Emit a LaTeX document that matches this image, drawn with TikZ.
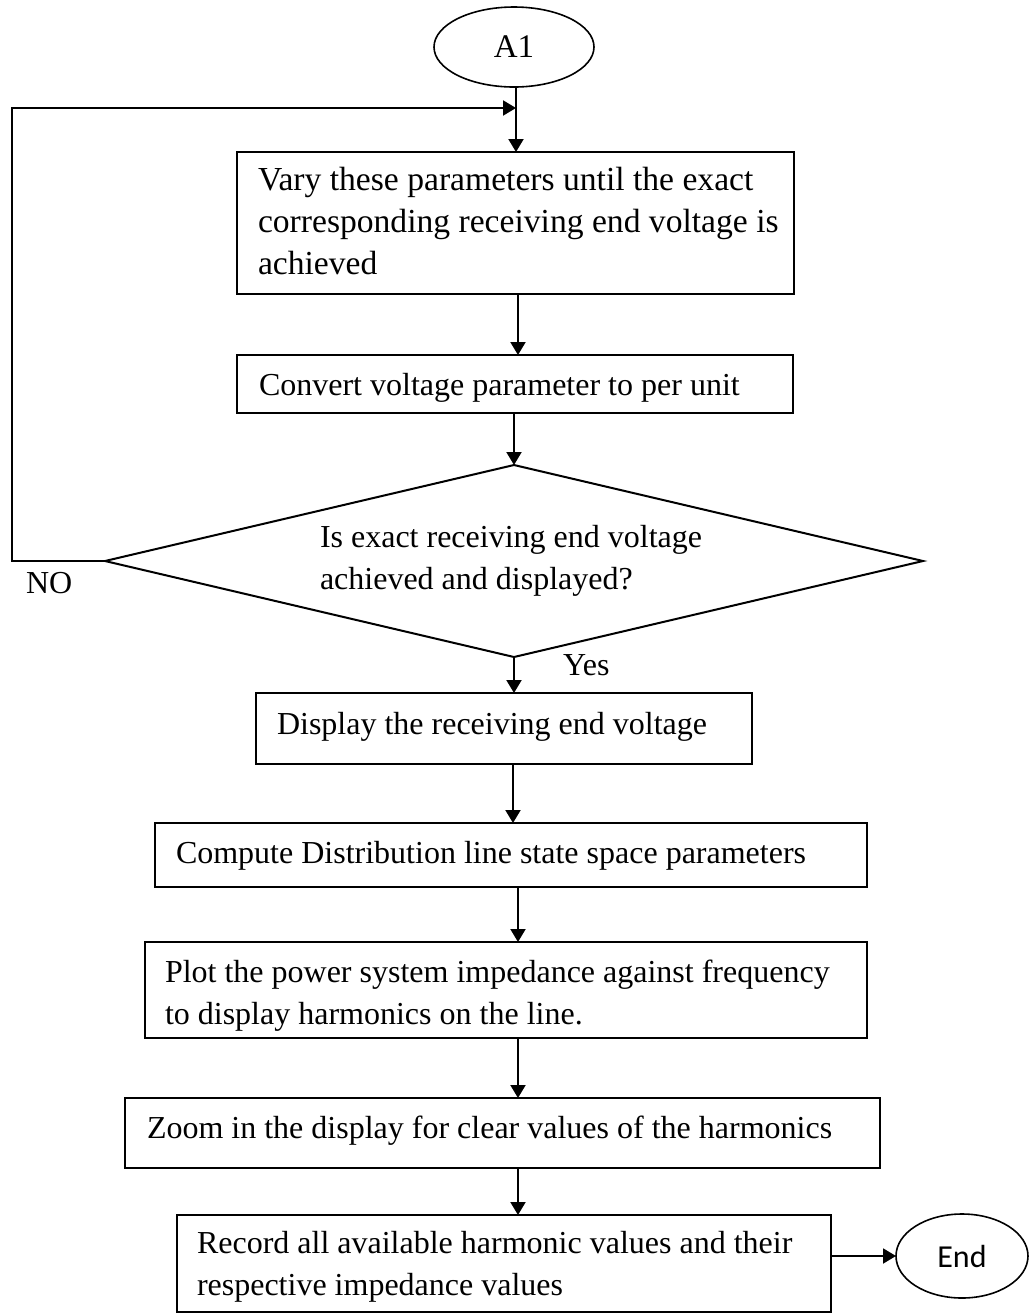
\documentclass[tikz,border=0pt]{standalone}
\usepackage{fontspec}
\setmainfont{Liberation Serif}
\newfontfamily\endfont{Carlito}
\usetikzlibrary{shapes.geometric,arrows.meta}
\begin{document}
\begin{tikzpicture}[x=0.5pt,y=-0.5pt,
  every node/.style={inner sep=0pt,outer sep=0pt},
  box/.style={draw,line width=1pt,rectangle},
  txt/.style={anchor=west,align=left,font=\fontsize{16}{21}\selectfont},
  bigtxt/.style={txt,font=\fontsize{16.8}{21}\selectfont},
  arr/.style={line width=1pt,-{Triangle[length=6.5pt,width=7.5pt]}}]
\useasboundingbox (0,0) rectangle (1029,1314);
% start ellipse
\node[draw,ellipse,line width=0.8pt,minimum width=80pt,minimum height=40pt,font=\fontsize{16.5}{21}\selectfont] (A1) at (514,47) {A1};
% boxes
\node[box,minimum width=278.5pt,minimum height=71pt] (b1) at (515.5,223) {};
\node[bigtxt] (t1) at (258,223.6) {\strut Vary these parameters until the exact\\\strut corresponding receiving end voltage is\\\strut achieved};
\node[box,minimum width=278pt,minimum height=29pt] (b2) at (515,384) {};
\node[txt] (t2) at (259,386.6) {\strut Convert voltage parameter to per unit};
\node[draw,diamond,line width=1pt,minimum width=409pt,minimum height=96pt] (d) at (514,561) {};
\node[txt] (td) at (320,559.6) {\strut Is exact receiving end voltage\\\strut achieved and displayed?};
\node[txt] (no) at (26,584.6) {\strut NO};
\node[txt] (yes) at (563,666.6) {\strut Yes};
\node[box,minimum width=248pt,minimum height=35.5pt] (b3) at (504,728.5) {};
\node[txt] (t3) at (277,725.6) {\strut Display the receiving end voltage};
\node[box,minimum width=356pt,minimum height=32pt] (b4) at (511,855) {};
\node[txt] (t4) at (176,854.6) {\strut Compute Distribution line state space parameters};
\node[box,minimum width=361pt,minimum height=48pt] (b5) at (506,990) {};
\node[txt] (t5) at (165,994.6) {\strut Plot the power system impedance against frequency\\\strut to display harmonics on the line.};
\node[box,minimum width=377.5pt,minimum height=35pt] (b6) at (502.5,1133) {};
\node[txt] (t6) at (147,1129.6) {\strut Zoom in the display for clear values of the harmonics};
\node[box,minimum width=327pt,minimum height=48.5pt] (b7) at (504,1263.5) {};
\node[txt] (t7) at (197,1265.6) {\strut Record all available harmonic values and their\\\strut respective impedance values};
\node[draw,ellipse,line width=0.8pt,minimum width=66pt,minimum height=42pt,font=\endfont\fontsize{16}{18}\selectfont] (E) at (962,1256) {End};
% helper coordinates
\coordinate (x516) at (516,0);
\coordinate (x518) at (518,0);
\coordinate (x513) at (513,0);
\coordinate (lp) at (12,108);
\coordinate (jn) at (516,108);
% connectors
\draw[arr] (A1.south -| x516) -- (b1.north -| x516);
\draw[arr] (d.west) -| (lp) -- (jn);
\draw[arr] (b1.south -| x518) -- (b2.north -| x518);
\draw[arr] (b2.south -| d.north) -- (d.north);
\draw[arr] (d.south) -- (b3.north -| d.south);
\draw[arr] (b3.south -| x513) -- (b4.north -| x513);
\draw[arr] (b4.south -| x518) -- (b5.north -| x518);
\draw[arr] (b5.south -| x518) -- (b6.north -| x518);
\draw[arr] (b6.south -| x518) -- (b7.north -| x518);
\draw[arr] (b7.east |- E.west) -- (E.west);
\end{tikzpicture}
\end{document}
